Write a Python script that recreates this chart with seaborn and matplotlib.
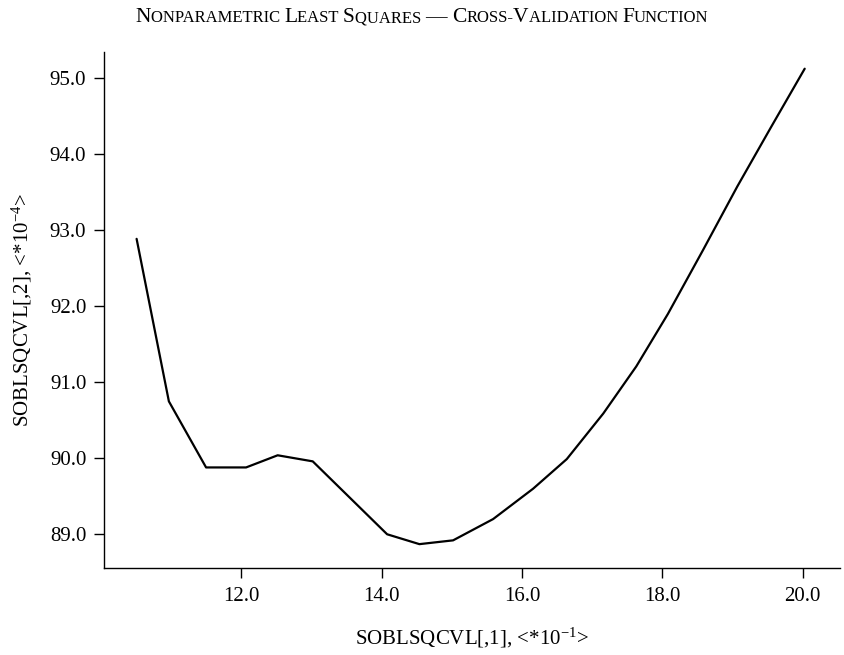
import matplotlib
matplotlib.use("Agg")
import matplotlib.pyplot as plt
from matplotlib.offsetbox import TextArea, HPacker, AnchoredOffsetbox
from matplotlib.ticker import FormatStrFormatter
import seaborn as sns
import pandas as pd

# Cross-validation function of the nonparametric least squares fit
bandwidth = [10.51, 10.97, 11.50, 12.07, 12.52, 13.02, 13.55, 14.08, 14.54, 15.02,
             15.59, 16.16, 16.64, 17.16, 17.63, 18.08, 18.58, 19.07, 19.55, 20.03]
cv_value = [92.88, 90.74, 89.87, 89.87, 90.03, 89.95, 89.47, 88.99, 88.86, 88.91,
            89.19, 89.59, 89.98, 90.58, 91.20, 91.89, 92.73, 93.57, 94.35, 95.12]

x_ticks = [12.0, 14.0, 16.0, 18.0, 20.0]
y_ticks = [89.0, 90.0, 91.0, 92.0, 93.0, 94.0, 95.0]

x_label = r"SOBLSQCVL[,1], <*10$^{\mathregular{-1}}$>"
y_label = r"SOBLSQCVL[,2], <*10$^{\mathregular{-4}}$>"

# Title words set in small capitals: (capital, rest)
title_words = [("N", "ONPARAMETRIC "), ("L", "EAST "), ("S", "QUARES "),
               ("— ", ""), ("C", "ROSS-"), ("V", "ALIDATION "), ("F", "UNCTION")]

sns.set_theme(style="ticks")
plt.rcParams["font.family"] = ["Liberation Serif", "DejaVu Serif"]
plt.rcParams["mathtext.fontset"] = "custom"
plt.rcParams["mathtext.rm"] = "Liberation Serif"
plt.rcParams["mathtext.it"] = "Liberation Serif:italic"

df = pd.DataFrame({"h": bandwidth, "cv": cv_value})

fig = plt.figure(figsize=(8.44, 6.55), dpi=100)
ax = fig.add_axes([0.1236, 0.1333, 0.8714, 0.7873])

sns.lineplot(data=df, x="h", y="cv", ax=ax, color="black", linewidth=1.6,
             sort=False, estimator=None)

ax.set_xlim(10.05, 20.53)
ax.set_ylim(88.55, 95.34)
ax.set_xticks(x_ticks)
ax.set_yticks(y_ticks)
ax.xaxis.set_major_formatter(FormatStrFormatter("%.1f"))
ax.yaxis.set_major_formatter(FormatStrFormatter("%.1f"))

for side in ("top", "right"):
    ax.spines[side].set_visible(False)
for side in ("left", "bottom"):
    ax.spines[side].set_color("black")
    ax.spines[side].set_linewidth(1.0)

ax.tick_params(axis="both", direction="out", length=7, width=1.0,
               colors="black", labelsize=15)
ax.tick_params(axis="x", pad=7)
ax.tick_params(axis="y", pad=6)

ax.set_xlabel(x_label, fontsize=15, color="black", labelpad=14)
ax.set_ylabel(y_label, fontsize=15, color="black", labelpad=11)

# Small-caps title assembled from pieces of two sizes, aligned on the baseline
big, small = 15.5, 12.0
pieces = []
for cap, rest in title_words:
    pieces.append(TextArea(cap, textprops=dict(fontsize=big, color="black")))
    if rest:
        pieces.append(TextArea(rest, textprops=dict(fontsize=small, color="black")))
packed = HPacker(children=pieces, align="baseline", pad=0, sep=0)
title_box = AnchoredOffsetbox(loc="center", child=packed, frameon=False,
                              bbox_to_anchor=(0.5, 1 - 18 / 655),
                              bbox_transform=fig.transFigure, borderpad=0, pad=0)
fig.add_artist(title_box)

fig.savefig("out.png", dpi=100, facecolor="white")
